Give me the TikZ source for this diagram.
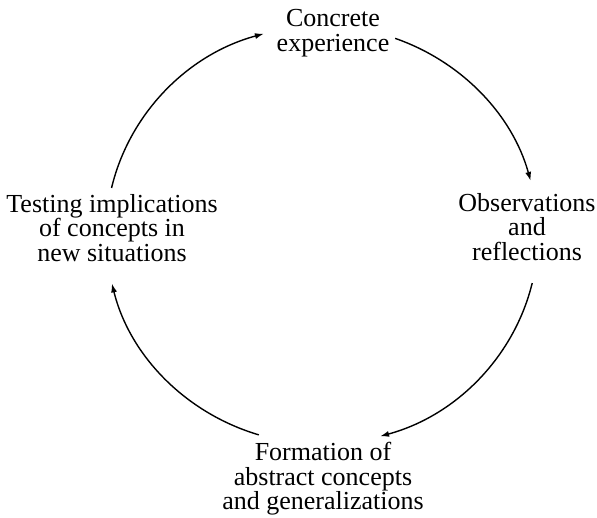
\documentclass[tikz,border=0pt]{standalone}
\usepackage{fontspec}
\setmainfont{Liberation Serif}
\usetikzlibrary{arrows.meta,calc}
\begin{document}
\begin{tikzpicture}[x=1pt,y=-1pt,
  stage/.style={align=center,inner sep=0pt,font=\fontsize{26}{24.5}\selectfont},
  cycle arrow/.style={line width=1.4pt,-{Latex[length=9pt,width=6pt]}}]
\useasboundingbox (0,0) rectangle (597,517);

% the four stages of the learning cycle
\node[stage] (ce) at (333,33)  {Concrete\\experience};
\node[stage] (or) at (527,227) {Observations\\and\\reflections};
\node[stage] (fa) at (323,479) {Formation of\\abstract concepts\\and generalizations};
\node[stage] (ti) at (112,228) {Testing implications\\of concepts in\\new situations};

% centre of the cycle and the start of each arc
\coordinate (o) at (322,235);
\coordinate (s1) at ($(o)+(167:216pt and 209pt)$);
\coordinate (s2) at ($(o)+(70.2:216pt and 209pt)$);
\coordinate (s3) at ($(o)+(-13.3:216pt and 209pt)$);
\coordinate (s4) at ($(o)+(-107:216pt and 209pt)$);

% clockwise arrows between the stages
\draw[cycle arrow] (s1) arc[start angle=167,  end angle=105.6, x radius=216pt, y radius=209pt];
\draw[cycle arrow] (s2) arc[start angle=70.2, end angle=15,    x radius=216pt, y radius=209pt];
\draw[cycle arrow] (s3) arc[start angle=-13.3,end angle=-74.4, x radius=216pt, y radius=209pt];
\draw[cycle arrow] (s4) arc[start angle=-107, end angle=-166.6,x radius=216pt, y radius=209pt];
\end{tikzpicture}
\end{document}
